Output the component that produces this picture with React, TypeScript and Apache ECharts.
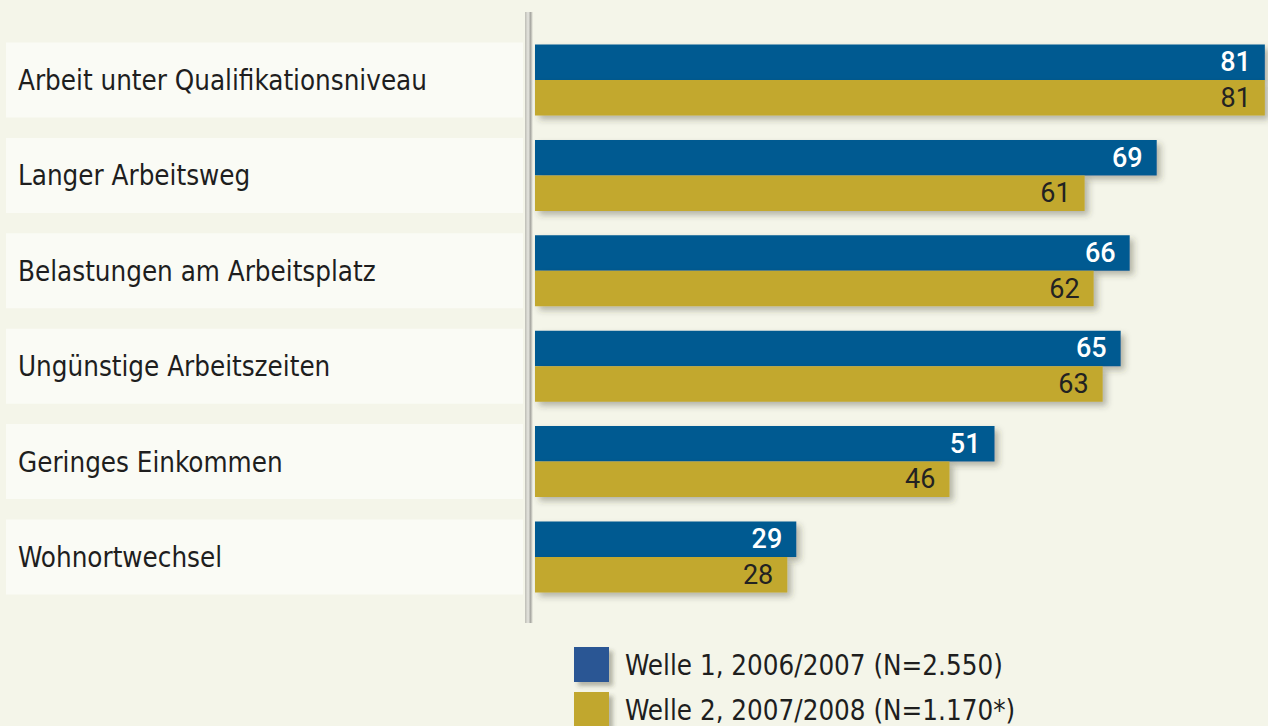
import React, { useEffect, useRef } from "react";
import * as echarts from "echarts";

const categories = [
  "Arbeit unter Qualifikationsniveau",
  "Langer Arbeitsweg",
  "Belastungen am Arbeitsplatz",
  "Ungünstige Arbeitszeiten",
  "Geringes Einkommen",
  "Wohnortwechsel",
];
const welle1 = [81, 69, 66, 65, 51, 29];
const welle2 = [81, 61, 62, 63, 46, 28];
const seriesNames = ["Welle 1, 2006/2007 (N=2.550)", "Welle 2, 2007/2008 (N=1.170*)"];

const NARROW = '"Liberation Sans Narrow", "DejaVu Sans Condensed", "Noto Sans", sans-serif';
const NUM = 'Roboto, "Noto Sans", sans-serif';

export default function App() {
  const ref = useRef<HTMLDivElement>(null);
  useEffect(() => {
    if (!ref.current) return;
    const chart = echarts.init(ref.current, null, { renderer: "svg" });
    const shadow = {
      shadowColor: "rgba(60,60,40,0.35)",
      shadowBlur: 6,
      shadowOffsetX: 4,
      shadowOffsetY: 4,
    };
    chart.setOption({
      animation: false,
      backgroundColor: "#f4f5e9",
      grid: { left: 535, top: 32.3, width: 733, height: 572.4 },
      xAxis: {
        type: "value",
        min: 0,
        max: 81.35,
        show: false,
        splitLine: { show: false },
      },
      yAxis: {
        type: "category",
        data: categories,
        inverse: true,
        axisLine: { show: false },
        axisTick: { show: false },
        splitLine: { show: false },
        axisLabel: {
          align: "left",
          margin: 529,
          fontFamily: NARROW,
          fontSize: 27.5,
          color: "#1e1e1e",
          backgroundColor: "#fafbf5",
          width: 505,
          height: 75,
          lineHeight: 75,
          padding: [0, 0, 0, 12],
          verticalAlign: "middle",
        },
      },
      legend: {
        orient: "vertical",
        left: 574,
        top: 647,
        height: 140,
        itemWidth: 35,
        itemHeight: 35,
        itemGap: 10,
        padding: 0,
        icon: "rect",
        itemStyle: { ...shadow, shadowBlur: 4 },
        textStyle: {
          fontFamily: NARROW,
          fontSize: 27.5,
          color: "#1e1e1e",
          padding: [0, 0, 0, 11],
        },
        data: [
          { name: seriesNames[0], itemStyle: { color: "#2a5794" } },
          { name: seriesNames[1], itemStyle: { color: "#c1a72f" } },
        ],
      },
      graphic: [
        {
          type: "rect",
          shape: { x: 525, y: 12, width: 8, height: 611 },
          style: {
            fill: new echarts.graphic.LinearGradient(0, 0, 1, 0, [
              { offset: 0, color: "#bdbdb5" },
              { offset: 0.4, color: "#e6e6e0" },
              { offset: 0.7, color: "#a8a8a2" },
              { offset: 1, color: "#f4f5e9" },
            ]),
          },
          z: 1,
        },
      ],
      series: [
        {
          name: seriesNames[0],
          type: "bar",
          data: welle1,
          barWidth: 35.5,
          barGap: "0%",
          itemStyle: { color: "#005a91", ...shadow },
          label: {
            show: true,
            position: "insideRight",
            distance: 14,
            color: "#ffffff",
            fontFamily: NUM,
            fontWeight: 500,
            fontSize: 27,
          },
        },
        {
          name: seriesNames[1],
          type: "bar",
          data: welle2,
          barWidth: 35.5,
          barGap: "0%",
          itemStyle: { color: "#c2a82e", ...shadow },
          label: {
            show: true,
            position: "insideRight",
            distance: 14,
            color: "#222222",
            fontFamily: NUM,
            fontSize: 27,
          },
        },
      ],
    });
    return () => chart.dispose();
  }, []);
  return (
    <div
      ref={ref}
      style={{ position: "fixed", left: 0, top: 0, width: 1268, height: 726 }}
    />
  );
}
